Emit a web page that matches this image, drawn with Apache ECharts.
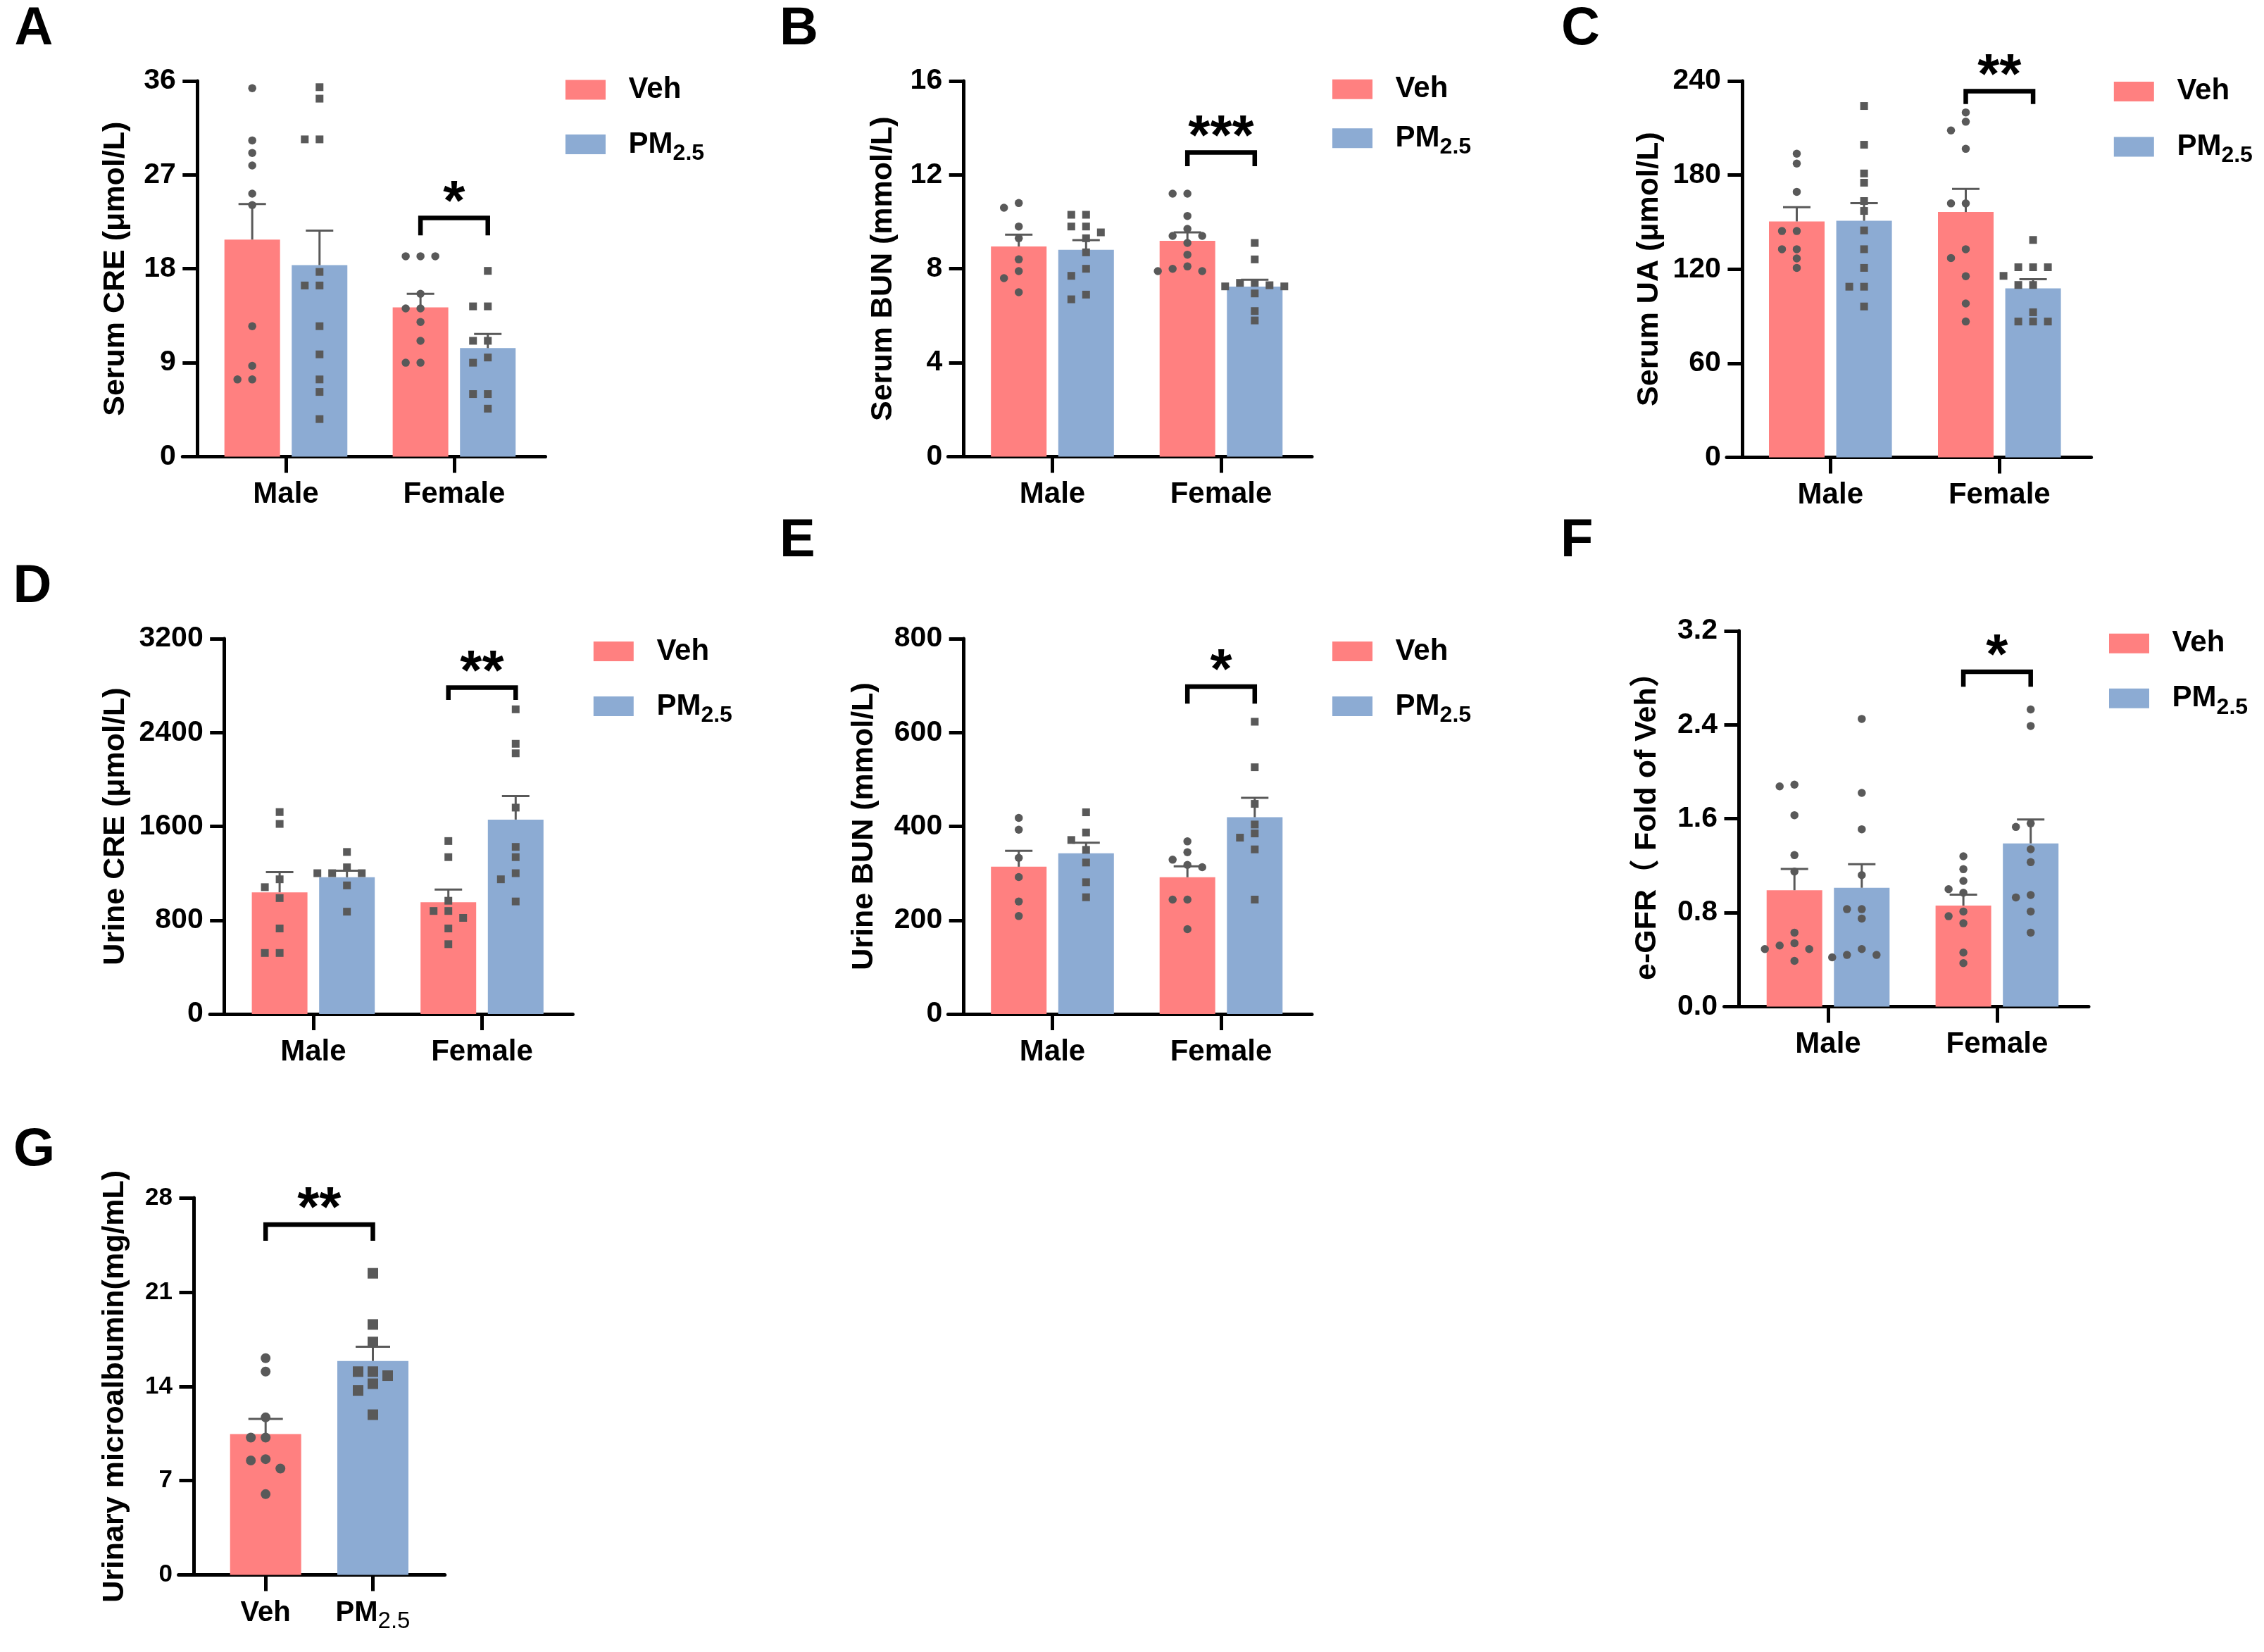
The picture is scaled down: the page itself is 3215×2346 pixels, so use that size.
<!DOCTYPE html>
<html>
<head>
<meta charset="utf-8">
<script src="https://cdn.jsdelivr.net/npm/echarts@6/dist/echarts.min.js"></script>
<style>
html,body{margin:0;padding:0;background:#fff;}
#chart{width:3215px;height:2346px;}
</style>
</head>
<body>
<div id="chart"></div>
<script>
// ---------------- DATA ----------------
const sexCategories = ['Male', 'Female'];
const groupNames = ['Veh', 'PM2.5'];
const albCategories = ['Veh', 'PM2.5'];

// A: Serum CRE (μmol/L)   [Veh, PM2.5] x [Male, Female]
const serumCRE_ticks = [0, 9, 18, 27, 36];
const serumCRE_mean = [[20.8, 14.3], [18.35, 10.4]];
const serumCRE_sem = [[3.4, 1.3], [3.3, 1.35]];
const serumCRE_veh = [[35.3, 30.3, 29.1, 27.9, 25.2, 24.1, 12.5, 8.7, 7.4, 7.4], [19.2, 19.2, 19.2, 15.6, 14.2, 14.2, 12.9, 11.1, 9.0, 9.0]];
const serumCRE_pm = [[35.4, 34.3, 30.4, 30.4, 17.7, 16.4, 16.4, 12.5, 9.8, 7.4, 6.2, 3.6], [17.8, 14.4, 14.4, 11.1, 11.1, 9.5, 9.0, 6.0, 6.0, 4.6]];
const serumCRE_sig = ['*', 22.87, 21.2];

// B: Serum BUN (mmol/L)
const serumBUN_ticks = [0, 4, 8, 12, 16];
const serumBUN_mean = [[8.95, 9.19], [8.81, 7.24]];
const serumBUN_sem = [[0.5, 0.36], [0.41, 0.29]];
const serumBUN_veh = [[10.8, 10.6, 9.8, 9.3, 8.4, 7.9, 7.6, 7.0], [11.2, 11.2, 10.25, 9.7, 9.4, 9.4, 9.1, 8.6, 8.1, 8.0, 7.9, 7.9]];
const serumBUN_pm = [[10.3, 10.3, 9.8, 9.8, 9.55, 9.3, 8.7, 8.0, 7.7, 6.9, 6.7], [9.1, 8.4, 7.4, 7.4, 7.3, 7.25, 7.25, 6.95, 6.2, 5.8]];
const serumBUN_sig = ['***', 12.95, 12.37];

// C: Serum UA (μmol/L)
const serumUA_ticks = [0, 60, 120, 180, 240];
const serumUA_mean = [[150.4, 156.4], [150.8, 107.7]];
const serumUA_sem = [[9.1, 14.8], [11.3, 5.9]];
const serumUA_veh = [[193.6, 187.3, 169.3, 144.3, 144.3, 132.7, 132.7, 126.8, 120.8], [219.9, 214.0, 208.4, 196.7, 161.9, 161.9, 132.7, 127.1, 115.5, 98.1, 86.6]];
const serumUA_pm = [[224.0, 199.3, 181.0, 175.1, 163.4, 157.1, 144.7, 132.7, 120.8, 108.8, 108.8, 96.2], [138.6, 121.2, 121.2, 121.2, 115.7, 109.9, 109.9, 92.5, 86.6, 86.6, 86.6]];
const serumUA_sig = ['**', 233.4, 225.2];

// D: Urine CRE (μmol/L)
const urineCRE_ticks = [0, 800, 1600, 2400, 3200];
const urineCRE_mean = [[1038, 954], [1167, 1658]];
const urineCRE_sem = [[172, 108], [55, 201]];
const urineCRE_veh = [[1722, 1621, 1149, 1082, 989, 730, 521, 521], [1475, 1338, 966, 879, 879, 820, 730, 596]];
const urineCRE_pm = [[1382, 1251, 1201, 1201, 1201, 1097, 873], [2598, 2304, 2223, 1760, 1425, 1338, 1201, 1149, 960]];
const urineCRE_sig = ['**', 2783, 2678];

// E: Urine BUN (mmol/L)
const urineBUN_ticks = [0, 200, 400, 600, 800];
const urineBUN_mean = [[314, 291.6], [342.5, 419.6]];
const urineBUN_sem = [[34, 23.4], [22.5, 41.4]];
const urineBUN_veh = [[418, 393, 333, 292, 240, 209], [368, 345, 329, 318, 313, 244, 244, 181]];
const urineBUN_pm = [[430, 387, 371, 350, 323, 281, 249], [623, 526, 448, 404, 385, 376, 351, 244]];
const urineBUN_sig = ['*', 698, 661.7];

// F: e-GFR (Fold of Veh)
const eGFR_ticks = [0, 0.8, 1.6, 2.4, 3.2];
const eGFR_mean = [[0.991, 0.860], [1.012, 1.390]];
const eGFR_sem = [[0.181, 0.093], [0.2, 0.203]];
const eGFR_veh = [[1.89, 1.875, 1.63, 1.29, 1.15, 0.63, 0.54, 0.52, 0.49, 0.49, 0.39], [1.28, 1.17, 1.07, 1.0, 0.97, 0.81, 0.77, 0.71, 0.46, 0.37]];
const eGFR_pm = [[2.45, 1.82, 1.51, 1.12, 0.83, 0.83, 0.75, 0.49, 0.44, 0.44, 0.42], [2.53, 2.39, 1.56, 1.53, 1.34, 1.23, 0.95, 0.93, 0.81, 0.63]];
const eGFR_sig = ['*', 2.851, 2.723];

// G: Urinary microalbumin (mg/mL)   [Veh, PM2.5]
const alb_ticks = [0, 7, 14, 21, 28];
const alb_mean = [10.46, 15.89];
const alb_sem = [1.13, 1.06];
const alb_veh = [16.1, 15.1, 11.7, 10.2, 10.2, 8.6, 8.5, 7.9, 6.0];
const alb_pm = [22.4, 18.6, 17.3, 15.1, 15.1, 14.8, 14.2, 13.7, 11.9];
const alb_sig = ['**', 26.02, 24.82];

// ---------------- STYLE ----------------
const FONT = "'Liberation Sans', Arial, Helvetica, 'Noto Sans CJK SC', sans-serif";
const VEH = '#FF8080';
const PM = '#8CABD3';
const DOT = '#595959';
const ERR = '#595959';
const BAR_W = 79, BAR_GAP = 0.21;
const OFF = (BAR_W * (1 + BAR_GAP)) / 2;
const STEP = 21;

const panels = [
  {letter: 'A', name: 'Serum CRE (μmol/L)', ticks: serumCRE_ticks, mean: serumCRE_mean, sem: serumCRE_sem, veh: serumCRE_veh, pm: serumCRE_pm, sig: serumCRE_sig, sym: ['circle', 'rect'],
   L: 286.5, T: 114.9, W: 477.9, H: 533.6, yOff: 6.7, ax0: 259.3, ax1: 774.5, nameDist: 116, lg: [803, 112.4, 75.6], lt: [20.5, 14.5]},
  {letter: 'B', name: 'Serum BUN (mmol/L)', ticks: serumBUN_ticks, mean: serumBUN_mean, sem: serumBUN_sem, veh: serumBUN_veh, pm: serumBUN_pm, sig: serumBUN_sig, sym: ['circle', 'rect'],
   L: 1374.75, T: 114.9, W: 479, H: 533.6, yOff: 6.55, ax0: 1346.4, ax1: 1863, nameDist: 114, lg: [1892, 111.7, 67.6], lt: [1107, 14.5]},
  {letter: 'C', name: 'Serum UA (μmol/L)', ticks: serumUA_ticks, mean: serumUA_mean, sem: serumUA_sem, veh: serumUA_veh, pm: serumUA_pm, sig: serumUA_sig, sym: ['circle', 'rect'],
   L: 2479.3, T: 114.9, W: 480, H: 534.6, yOff: 5.4, ax0: 2452, ax1: 2969.6, nameDist: 132, lg: [3001.8, 114.9, 76.6], lt: [2217, 14.5]},
  {letter: 'D', name: 'Urine CRE (μmol/L)', ticks: urineCRE_ticks, mean: urineCRE_mean, sem: urineCRE_sem, veh: urineCRE_veh, pm: urineCRE_pm, sig: urineCRE_sig, sym: ['rect', 'rect'],
   L: 325.1, T: 907, W: 479.2, H: 533.1, yOff: 6.4, ax0: 298.2, ax1: 813.4, nameDist: 155, lg: [842.8, 910, 76], lt: [18.5, 806.7]},
  {letter: 'E', name: 'Urine BUN (mmol/L)', ticks: urineBUN_ticks, mean: urineBUN_mean, sem: urineBUN_sem, veh: urineBUN_veh, pm: urineBUN_pm, sig: urineBUN_sig, sym: ['circle', 'rect'],
   L: 1374.75, T: 907, W: 479, H: 533.1, yOff: 6.55, ax0: 1346.4, ax1: 1863, nameDist: 141, lg: [1892, 910, 76], lt: [1107, 742]},
  {letter: 'F', name: 'e-GFR（ Fold of Veh）', ticks: eGFR_ticks, mean: eGFR_mean, sem: eGFR_sem, veh: eGFR_veh, pm: eGFR_pm, sig: eGFR_sig, sym: ['circle', 'circle'], fmt1: true,
   L: 2476.05, T: 895.8, W: 479.8, H: 533.7, yOff: 7.05, ax0: 2448.5, ax1: 2966, nameDist: 130, lg: [2995, 898.7, 76], lt: [2216, 742]}
];

// beeswarm column assignment (greedy)
function swarm(values, pxPerUnit, d) {
  const placed = [], cols = [];
  const order = [0, -1, 1, -2, 2, -3, 3, -4, 4];
  values.forEach(v => {
    const y = v * pxPerUnit;
    for (const c of order) {
      if (!placed.some(p => p.c === c && Math.abs(p.y - y) < d)) { placed.push({c, y}); cols.push(c); return; }
    }
    cols.push(0);
  });
  return cols;
}

function errRender(off, cap) {
  return function (params, api) {
    const c = api.value(0), m = api.value(1), s = api.value(2), side = api.value(3);
    const p0 = api.coord([c, m]);
    const p1 = api.coord([c, m + s]);
    const x = p0[0] + side * off;
    const st = {stroke: ERR, lineWidth: 3};
    return {type: 'group', children: [
      {type: 'line', shape: {x1: x, y1: p0[1], x2: x, y2: p1[1]}, style: st},
      {type: 'line', shape: {x1: x - cap / 2, y1: p1[1], x2: x + cap / 2, y2: p1[1]}, style: st}
    ]};
  };
}

function dotRender(off, side, shape, size) {
  return function (params, api) {
    const p = api.coord([api.value(0), api.value(1)]);
    const x = p[0] + side * off + api.value(2) * STEP;
    if (shape === 'circle') {
      return {type: 'circle', shape: {cx: x, cy: p[1], r: size / 2}, style: {fill: DOT}};
    }
    return {type: 'rect', shape: {x: x - size / 2, y: p[1] - size / 2, width: size, height: size}, style: {fill: DOT}};
  };
}

function bracketRender(offL, offR, label) {
  return function (params, api) {
    const a = api.coord([api.value(0), api.value(2)]);
    const b = api.coord([api.value(1), api.value(2)]);
    const lg = api.coord([api.value(0), api.value(3)]);
    const xl = a[0] + offL, xr = b[0] + offR, yt = a[1], yl = lg[1];
    return {type: 'group', children: [
      {type: 'polyline', shape: {points: [[xl, yl], [xl, yt], [xr, yt], [xr, yl]]},
       style: {stroke: '#000', lineWidth: 6.5, fill: null, lineJoin: 'miter', lineCap: 'butt'}},
      {type: 'text', x: (xl + xr) / 2, y: yt - 20,
       style: {text: label, fill: '#000', font: 'bold 80px ' + FONT, align: 'center', verticalAlign: 'middle', textAlign: 'center', textVerticalAlign: 'middle'}}
    ]};
  };
}

const option = {
  backgroundColor: '#fff',
  animation: false,
  title: [], grid: [], xAxis: [], yAxis: [], legend: [], series: []
};

function addAxes(cfg, cats, labelOpt, tickFont, nameText, nameGap) {
  const gi = option.grid.length;
  option.grid.push({left: cfg.L, top: cfg.T, width: cfg.W, height: cfg.H, containLabel: false, outerBoundsMode: 'none'});
  option.grid.push({left: cfg.ax0, top: cfg.T, width: cfg.ax1 - cfg.ax0, height: cfg.H, containLabel: false, outerBoundsMode: 'none'});
  const xi = option.xAxis.length;
  option.xAxis.push({
    type: 'category', gridIndex: gi, data: cats, boundaryGap: true,
    axisLine: {show: false, onZero: false},
    axisTick: {show: true, alignWithLabel: true, length: 23, lineStyle: {color: '#000', width: 5}},
    axisLabel: labelOpt,
    splitLine: {show: false}
  });
  option.xAxis.push({
    type: 'value', gridIndex: gi + 1, min: 0, max: 1,
    axisLine: {show: true, onZero: false, lineStyle: {color: '#000', width: 5}},
    axisTick: {show: false}, axisLabel: {show: false}, splitLine: {show: false}
  });
  const t = cfg.ticks;
  option.yAxis.push({
    type: 'value', gridIndex: gi, min: t[0], max: t[t.length - 1], interval: t[1] - t[0],
    offset: cfg.yOff,
    axisLine: {show: true, onZero: false, lineStyle: {color: '#000', width: 5}},
    axisTick: {show: true, length: 20.5, lineStyle: {color: '#000', width: 5}},
    axisLabel: {show: true, margin: 30, color: '#000', fontSize: tickFont, fontWeight: 'bold', fontFamily: FONT,
      formatter: cfg.fmt1 ? (v => Number(v).toFixed(1)) : (v => String(v))},
    splitLine: {show: false},
    name: nameText, nameLocation: 'middle', nameGap: nameGap, nameMoveOverlap: false,
    nameTextStyle: {color: '#000', fontSize: 43, fontWeight: 'bold', fontFamily: FONT}
  });
  option.yAxis.push({type: 'value', gridIndex: gi + 1, min: 0, max: 1, show: false});
  return {xi: xi, yi: xi};
}

const legendRich = {
  a: {fontSize: 42, fontWeight: 'bold', fontFamily: FONT, color: '#000', height: 40, lineHeight: 40, verticalAlign: 'top'},
  b: {fontSize: 32, fontWeight: 'bold', fontFamily: FONT, color: '#000', height: 14, lineHeight: 14, verticalAlign: 'bottom'}
};

panels.forEach(cfg => {
  const ax = addAxes(cfg, sexCategories,
    {show: true, margin: 33, color: '#000', fontSize: 42, fontWeight: 'bold', fontFamily: FONT},
    41, cfg.name, cfg.nameDist - 21.5);
  const pxPerUnit = cfg.H / (cfg.ticks[cfg.ticks.length - 1] - cfg.ticks[0]);
  const base = {xAxisIndex: ax.xi, yAxisIndex: ax.yi};

  option.series.push(Object.assign({type: 'bar', name: groupNames[0], data: cfg.mean[0], barWidth: BAR_W, barGap: (BAR_GAP * 100) + '%',
    itemStyle: {color: VEH}, z: 2, silent: true}, base));
  option.series.push(Object.assign({type: 'bar', name: groupNames[1], data: cfg.mean[1], barWidth: BAR_W, barGap: (BAR_GAP * 100) + '%',
    itemStyle: {color: PM}, z: 2, silent: true}, base));

  const errData = [];
  [0, 1].forEach(g => [0, 1].forEach(c => errData.push([c, cfg.mean[g][c], cfg.sem[g][c], g === 0 ? -1 : 1])));
  option.series.push(Object.assign({type: 'custom', renderItem: errRender(OFF, 39), data: errData, encode: {x: 0, y: 1}, z: 3, silent: true}, base));

  [cfg.veh, cfg.pm].forEach((grp, g) => {
    const shape = cfg.sym[g];
    const size = shape === 'circle' ? 11.5 : 11;
    const data = [];
    grp.forEach((vals, c) => {
      const cols = swarm(vals, pxPerUnit, size + 1.5);
      vals.forEach((v, i) => data.push([c, v, cols[i]]));
    });
    option.series.push(Object.assign({type: 'custom', renderItem: dotRender(OFF, g === 0 ? -1 : 1, shape, size), data: data,
      encode: {x: 0, y: 1}, z: 5, silent: true}, base));
  });

  option.series.push(Object.assign({type: 'custom', renderItem: bracketRender(-OFF, OFF, cfg.sig[0]),
    data: [[1, 1, cfg.sig[1], cfg.sig[2]]], encode: {x: 0, y: 2}, z: 6, silent: true}, base));

  option.legend.push({
    left: cfg.lg[0], top: cfg.lg[1] - 6, orient: 'vertical', itemWidth: 57, itemHeight: 28, itemGap: cfg.lg[2] - 40,
    padding: 0, selectedMode: false,
    data: [{name: groupNames[0], icon: 'rect'}, {name: groupNames[1], icon: 'rect'}],
    formatter: n => n === 'PM2.5' ? '{a|PM}{b|2.5}' : '{a|' + n + '}',
    textStyle: {rich: legendRich, padding: [0, 0, 0, 27.6], fontSize: 42, lineHeight: 40}
  });

  option.title.push({text: cfg.letter, left: cfg.lt[0], top: cfg.lt[1] - 10.8, padding: 0,
    textStyle: {fontSize: 76, fontWeight: 'bold', fontFamily: FONT, color: '#000'}});
});

// Panel G
(function () {
  const cfg = {ticks: alb_ticks, L: 301.05, T: 1701.1, W: 304.6, H: 535.5, yOff: 26.05, ax0: 253.6, ax1: 631.7};
  const xRich = {
    a: {fontSize: 40, fontWeight: 'bold', fontFamily: FONT, color: '#000', height: 40, lineHeight: 40, verticalAlign: 'top'},
    b: {fontSize: 33, fontWeight: 'normal', fontFamily: FONT, color: '#000', height: 16, lineHeight: 16, verticalAlign: 'bottom'}
  };
  const ax = addAxes(cfg, albCategories,
    {show: true, margin: 34.8, color: '#000', fontFamily: FONT, rich: xRich,
     formatter: v => v === 'PM2.5' ? '{a|PM}{b|2.5}' : '{a|' + v + '}'},
    35, 'Urinary microalbumin(mg/mL)', 112 - 21.5);
  const base = {xAxisIndex: ax.xi, yAxisIndex: ax.yi};
  const pxPerUnit = cfg.H / (alb_ticks[alb_ticks.length - 1] - alb_ticks[0]);
  option.series.push(Object.assign({type: 'bar', name: 'alb', data: [
    {value: alb_mean[0], itemStyle: {color: VEH}}, {value: alb_mean[1], itemStyle: {color: PM}}],
    barWidth: 101, z: 2, silent: true}, base));
  option.series.push(Object.assign({type: 'custom', renderItem: errRender(0, 49),
    data: [[0, alb_mean[0], alb_sem[0], 0], [1, alb_mean[1], alb_sem[1], 0]], encode: {x: 0, y: 1}, z: 3, silent: true}, base));
  [[alb_veh, 'circle', 14], [alb_pm, 'rect', 15]].forEach((d, c) => {
    const cols = swarm(d[0], pxPerUnit, d[2] + 1);
    option.series.push(Object.assign({type: 'custom', renderItem: dotRender(0, 0, d[1], d[2]),
      data: d[0].map((v, i) => [c, v, cols[i]]), encode: {x: 0, y: 1}, z: 5, silent: true}, base));
  });
  option.series.push(Object.assign({type: 'custom', renderItem: bracketRender(0, 0, alb_sig[0]),
    data: [[0, 1, alb_sig[1], alb_sig[2]]], encode: {x: 0, y: 2}, z: 6, silent: true}, base));
  option.title.push({text: 'G', left: 19, top: 1607 - 10.8, padding: 0,
    textStyle: {fontSize: 76, fontWeight: 'bold', fontFamily: FONT, color: '#000'}});
})();

const chart = echarts.init(document.getElementById('chart'), null, {renderer: 'canvas', width: 3215, height: 2346});
chart.setOption(option);
</script>
</body>
</html>
